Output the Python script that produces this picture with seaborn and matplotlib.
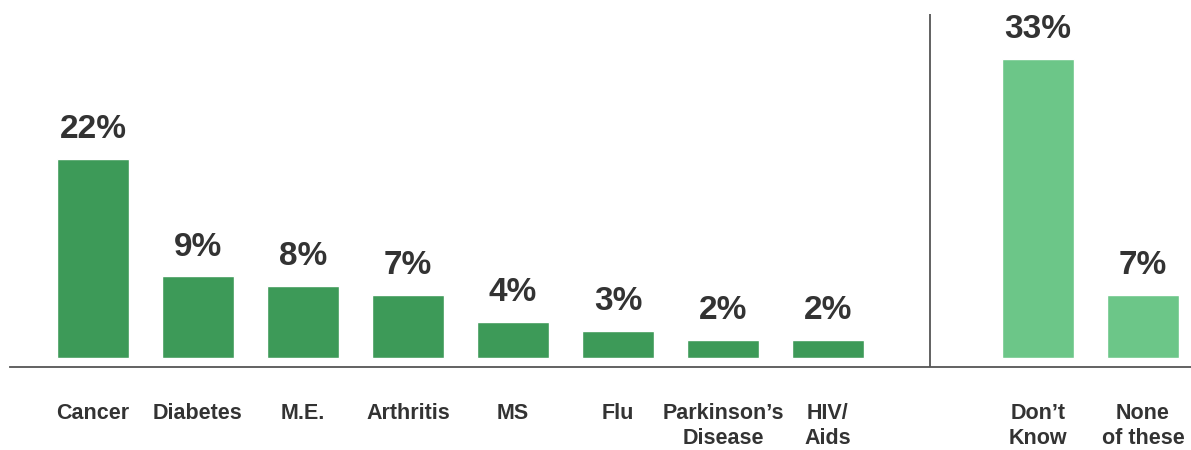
import pandas as pd
import matplotlib
matplotlib.use('Agg')
import matplotlib.pyplot as plt
import seaborn as sns

# ---- data ----
conditions = ['Cancer', 'Diabetes', 'M.E.', 'Arthritis', 'MS', 'Flu',
              'Parkinson\u2019s\nDisease', 'HIV/\nAids', 'Don\u2019t\nKnow', 'None\nof these']
percent = [22, 9, 8, 7, 4, 3, 2, 2, 33, 7]
group = ['named'] * 8 + ['other'] * 2

colors = {'named': '#3D9A58', 'other': '#6CC688'}
text_col = '#333333'

df = pd.DataFrame({'condition': conditions, 'percent': percent, 'group': group})
# blank slot between the two groups
order = conditions[:8] + [' '] + conditions[8:]

sns.set_style('white')
plt.rcParams['font.family'] = ['Liberation Sans', 'DejaVu Sans']

fig = plt.figure(figsize=(11.91, 4.5), dpi=100)
ax = fig.add_axes([10 / 1191, 83 / 450, 1 - 10 / 1191, 353 / 450])

sns.barplot(data=df, x='condition', y='percent', hue='group', order=order,
            palette=colors, width=0.69, legend=False, ax=ax, saturation=1)

for c in ax.containers:
    ax.bar_label(c, fmt='%d%%', padding=10, fontsize=24, fontweight='bold', color=text_col)

ax.set_xlim(-0.79, 10.457)
ax.set_ylim(-1.0, 38.0)

# separator line between the groups
ax.axvline(7.97, ymin=0, ymax=1, color='#555555', lw=1.3)

for s in ['top', 'right', 'left']:
    ax.spines[s].set_visible(False)
ax.spines['bottom'].set_color('#555555')
ax.spines['bottom'].set_linewidth(1.3)

ax.set_yticks([])
ax.set_xlabel('')
ax.set_ylabel('')
ax.tick_params(axis='x', length=0, pad=26, labelsize=15.5, labelcolor=text_col)
for lab in ax.get_xticklabels():
    lab.set_fontweight('bold')
    lab.set_linespacing(1.25)

plt.savefig('out.png', dpi=100)
